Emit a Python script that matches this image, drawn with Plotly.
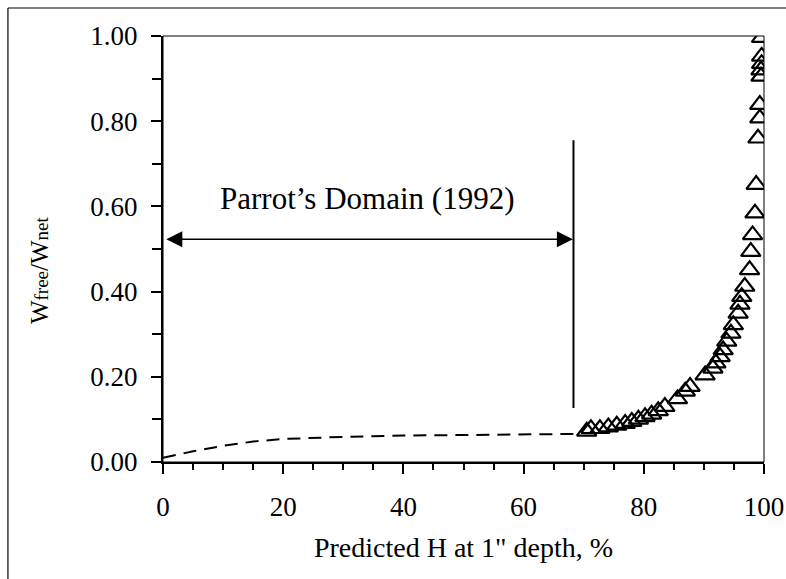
import plotly.graph_objects as go

# Measured points (Wfree/Wnet vs predicted H)
h_pts = [70.5, 71.2, 72.7, 74.1, 75.5, 76.9, 78.0, 79.1, 80.2, 81.3, 82.4, 83.5,
         85.6, 86.9, 87.7, 90.2, 91.5, 92.0, 92.7, 93.2, 93.8, 94.5, 94.9, 95.7,
         96.0, 96.3, 96.8, 97.6, 97.8, 98.1, 98.5, 98.7, 99.0, 99.3, 99.3, 99.5,
         99.5, 99.6, 99.6, 99.6]
w_pts = [0.072, 0.078, 0.078, 0.082, 0.086, 0.090, 0.095, 0.100, 0.106, 0.112, 0.120, 0.130,
         0.148, 0.166, 0.177, 0.204, 0.220, 0.232, 0.247, 0.263, 0.283, 0.302, 0.322, 0.349,
         0.370, 0.388, 0.412, 0.451, 0.494, 0.533, 0.584, 0.651, 0.760, 0.807, 0.839, 0.905,
         0.920, 0.935, 0.952, 0.996]

# Parrot (1992) curve
h_curve = [0, 5, 10, 15, 20, 25, 30, 40, 50, 60, 69.4]
w_curve = [0.010, 0.025, 0.038, 0.048, 0.054, 0.057, 0.059, 0.062, 0.063, 0.065, 0.066]

domain_label = "Parrot’s Domain (1992)"
domain_start, domain_end, domain_y = 0.3, 68.2, 0.523
vline_x, vline_y0, vline_y1 = 68.3, 0.127, 0.755

FONT = "Liberation Serif, Times New Roman, serif"

fig = go.Figure()
fig.add_trace(go.Scatter(x=h_curve, y=w_curve, mode="lines",
                         line=dict(color="black", width=2, dash="13px,8px"),
                         showlegend=False, hoverinfo="skip"))
fig.add_trace(go.Scatter(x=h_pts, y=w_pts, mode="markers",
                         marker=dict(symbol="triangle-up-open", size=17,
                                     color="black", line=dict(width=2.2, color="black")),
                         showlegend=False))

# vertical boundary line
fig.add_shape(type="line", xref="x", yref="y", x0=vline_x, x1=vline_x,
              y0=vline_y0, y1=vline_y1, line=dict(color="black", width=2))
# double-headed arrow
fig.add_annotation(x=domain_end, y=domain_y, ax=domain_start, ay=domain_y,
                   xref="x", yref="y", axref="x", ayref="y", text="",
                   showarrow=True, arrowhead=2, startarrowhead=2, arrowside="end+start",
                   arrowwidth=1.6, arrowsize=2.0, startarrowsize=2.0, arrowcolor="black")
fig.add_annotation(x=34, y=0.618, xref="x", yref="y", text=domain_label,
                   showarrow=False, font=dict(family=FONT, size=31, color="black"))

# y-axis title
fig.add_annotation(x=-0.205, y=0.45, xref="paper", yref="paper",
                   text="W<span style='font-size:19px'>free</span>/W<span style='font-size:19px'>net</span>",
                   textangle=-90, showarrow=False, xanchor="center", yanchor="middle",
                   font=dict(family=FONT, size=25, color="black"))

# plot frame (top / right) and outer border
fig.add_shape(type="rect", xref="paper", yref="paper", x0=0, x1=1, y0=0, y1=1,
              line=dict(color="black", width=1), layer="below")
fig.add_shape(type="line", xref="paper", yref="paper", x0=-0.258, x1=1.05,
              y0=1.0657, y1=1.0657, line=dict(color="black", width=1.2))
fig.add_shape(type="line", xref="paper", yref="paper", x0=-0.258, x1=-0.258,
              y0=1.0657, y1=-0.3, line=dict(color="black", width=1.2))

fig.update_layout(
    width=786, height=579,
    margin=dict(l=163, r=22, t=36, b=117, autoexpand=False),
    paper_bgcolor="white", plot_bgcolor="white",
    font=dict(family=FONT, color="black"),
    xaxis=dict(range=[0, 100], tickvals=[0, 20, 40, 60, 80, 100], automargin=False,
               ticks="outside", ticklen=10, tickwidth=1.5, tickcolor="black",
               minor=dict(dtick=5, ticks="outside", ticklen=6, tickwidth=1.5, tickcolor="black"),
               showline=True, linecolor="black", linewidth=2, showgrid=False, zeroline=False,
               tickfont=dict(size=27), ticklabelstandoff=10,
               title=dict(text="Predicted H at 1\" depth, %", font=dict(size=28), standoff=16)),
    yaxis=dict(range=[0, 1], tickvals=[0, 0.2, 0.4, 0.6, 0.8, 1.0], tickformat=".2f", automargin=False,
               ticks="outside", ticklen=10, tickwidth=1.5, tickcolor="black",
               minor=dict(dtick=0.1, ticks="outside", ticklen=9, tickwidth=1.5, tickcolor="black"),
               showline=True, linecolor="black", linewidth=2, showgrid=False, zeroline=False,
               tickfont=dict(size=27), ticklabelstandoff=8),
)

fig.write_html("out.html")
